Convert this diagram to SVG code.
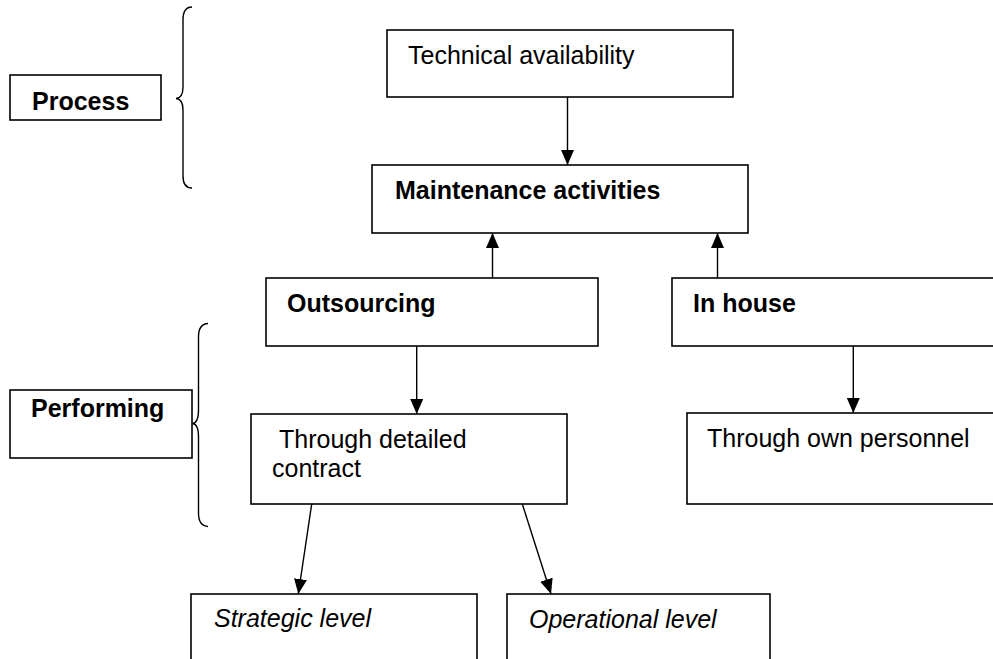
<svg xmlns="http://www.w3.org/2000/svg" width="993" height="659" viewBox="0 0 993 659">
<style>
.box{fill:#fff;stroke:#000;stroke-width:1.6}
.t{font-family:"Liberation Sans",Arial,sans-serif;font-size:25px;fill:#000}
.b{font-weight:bold}
.i{font-style:italic}
.c{fill:none;stroke:#000;stroke-width:1.4}
</style>
<defs>
<marker id="ah" markerUnits="userSpaceOnUse" markerWidth="16" markerHeight="14" refX="15" refY="6.5" orient="auto">
<path d="M0,0 L15,6.5 L0,13 z" fill="#000"/>
</marker>
</defs>
<rect width="993" height="659" fill="#fff"/>
<g id="braces">
<path class="c" d="M192,7 Q183,7 183,20 L183,87 Q183,98 176,98.5 Q183,99 183,110 L183,176 Q183,188 192,188"/>
<path class="c" d="M208,323.5 Q198.5,324 198.5,337 L198.5,410 Q198.5,423 192.5,423.5 Q198.5,424 198.5,437 L198.5,513 Q198.5,526 208,526.5"/>
</g>
<g id="process"><rect class="box" x="10" y="75" width="151" height="45"/><text class="t b" x="32" y="110">Process</text></g>
<g id="performing"><rect class="box" x="10" y="390" width="182" height="68"/><text class="t b" x="31" y="417">Performing</text></g>
<g id="technical"><rect class="box" x="387" y="30" width="346" height="67"/><text class="t" x="408" y="64">Technical availability</text></g>
<g id="maintenance"><rect class="box" x="372" y="165" width="376" height="68"/><text class="t b" x="395" y="199">Maintenance activities</text></g>
<g id="outsourcing"><rect class="box" x="266" y="278" width="332" height="68"/><text class="t b" x="287" y="312">Outsourcing</text></g>
<g id="inhouse"><rect class="box" x="672" y="278" width="340" height="68"/><text class="t b" x="693" y="312">In house</text></g>
<g id="contract"><rect class="box" x="251" y="414" width="316" height="90"/><text class="t" x="279" y="448">Through detailed</text><text class="t" x="272" y="477">contract</text></g>
<g id="personnel"><rect class="box" x="687" y="413" width="325" height="91"/><text class="t" x="707" y="447">Through own personnel</text></g>
<g id="strategic"><rect class="box" x="191" y="594" width="286" height="80"/><text class="t i" x="214" y="627">Strategic level</text></g>
<g id="operational"><rect class="box" x="507" y="594" width="263" height="80"/><text class="t i" x="529" y="628">Operational level</text></g>
<g id="connectors">
<line class="c" x1="567.5" y1="97" x2="567.5" y2="165" marker-end="url(#ah)"/>
<line class="c" x1="492.5" y1="278" x2="492.5" y2="233" marker-end="url(#ah)"/>
<line class="c" x1="717.5" y1="278" x2="717.5" y2="233" marker-end="url(#ah)"/>
<line class="c" x1="416.7" y1="346" x2="416.7" y2="414" marker-end="url(#ah)"/>
<line class="c" x1="853.3" y1="346" x2="853.3" y2="413" marker-end="url(#ah)"/>
<line class="c" x1="311.7" y1="504" x2="298.3" y2="594" marker-end="url(#ah)"/>
<line class="c" x1="522.3" y1="504" x2="551" y2="594" marker-end="url(#ah)"/>
</g>
</svg>
